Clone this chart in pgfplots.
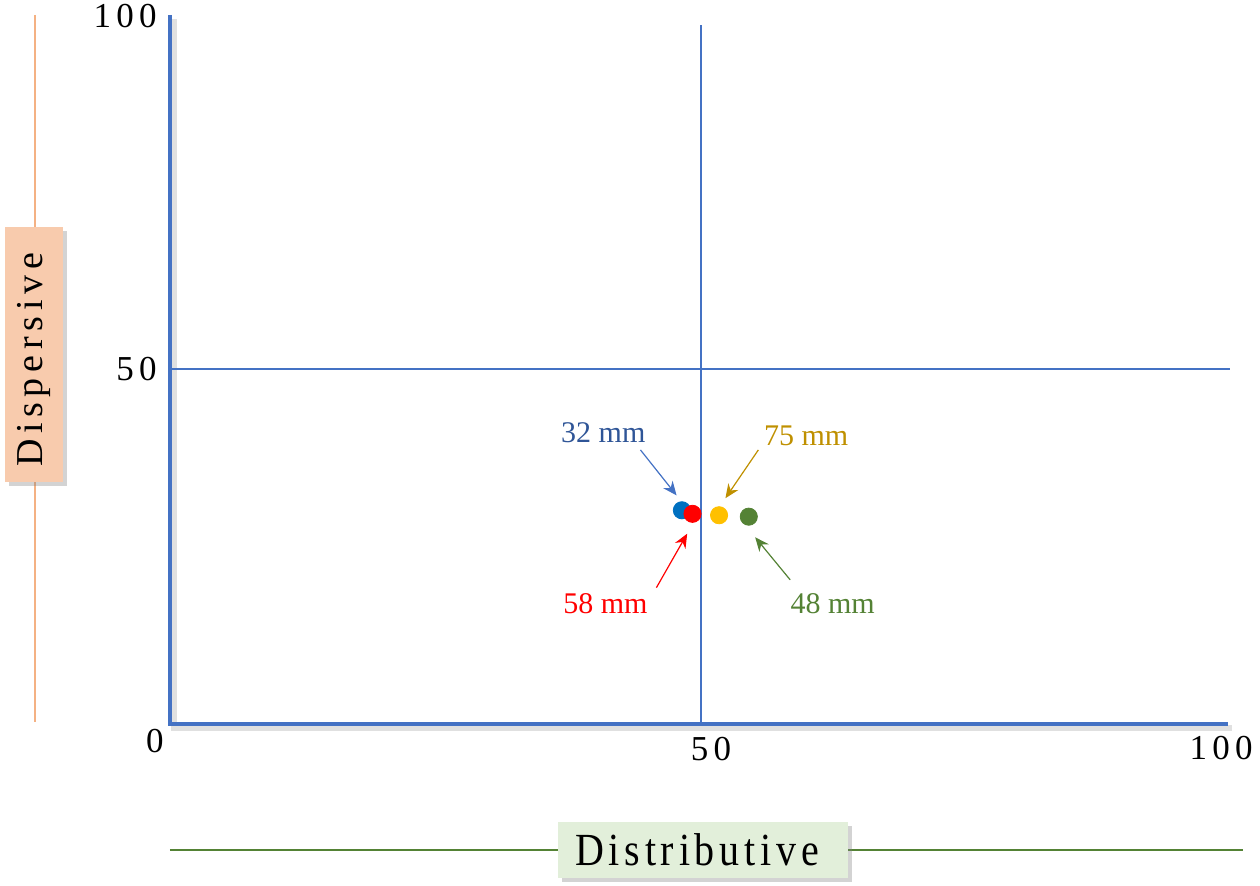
\documentclass[border=0pt]{standalone}
\usepackage{pgfplots}
\pgfplotsset{compat=1.18}
\usepackage{fontspec}
\setmainfont{Liberation Serif}
\usetikzlibrary{shadows,arrows.meta}

\definecolor{axblue}{HTML}{4472C4}
\definecolor{ptblue}{HTML}{0070C0}
\definecolor{ptred}{HTML}{FF0000}
\definecolor{ptyellow}{HTML}{FFC000}
\definecolor{ptgreen}{HTML}{548235}
\definecolor{lblblue}{HTML}{2F5597}
\definecolor{lblgold}{HTML}{BF9000}
\definecolor{boxorange}{HTML}{F8CBAD}
\definecolor{lineorange}{HTML}{F4B183}
\definecolor{boxgreen}{HTML}{E2EFDA}

\newcommand{\ticklbl}[1]{{\fontsize{17.5}{20}\selectfont\addfontfeature{LetterSpace=15}#1}}
\newcommand{\mmlbl}[1]{{\fontsize{15}{17}\selectfont #1}}

\begin{document}
\begin{tikzpicture}[x=0.5pt,y=0.5pt]
\useasboundingbox (-170,-162) rectangle (1090,724);

% axis titles with guide lines
\draw[lineorange, line width=0.6pt] (-135,709) -- (-135,2);
\node[fill=boxorange, minimum width=29pt, minimum height=127.5pt, inner sep=0pt,
      drop shadow={shadow xshift=2pt, shadow yshift=-2pt, opacity=0.35}]
  at (-136,369) {};
\node[rotate=90] at (-136,364)
  {\fontsize{19}{22}\selectfont\addfontfeature{LetterSpace=15}Dispersive};
\draw[ptgreen, line width=0.6pt] (0,-126) -- (1073,-126);
\node[fill=boxgreen, minimum width=145pt, minimum height=28pt, inner sep=0pt,
      drop shadow={shadow xshift=2pt, shadow yshift=-2pt, opacity=0.35}]
  at (533,-126) {};
\node[yscale=1.15] at (527,-126)
  {\fontsize{20}{22}\selectfont\addfontfeature{LetterSpace=12}Distributive};

% main axis lines with soft shadow
\draw[black!12, line width=3pt] (4,705) -- (4,-4) -- (1062,-4);
\draw[axblue, line width=2pt] (0,709) -- (0,0) -- (1058,0);

\begin{axis}[
  at={(0,0)}, anchor=south west,
  scale only axis, width=531pt, height=355pt,
  xmin=0, xmax=100, ymin=0, ymax=100,
  hide axis, clip=false,
]
% quadrant dividers
\draw[axblue, line width=0.6pt] (axis cs:50,0) -- (axis cs:50,98.5);
\draw[axblue, line width=0.6pt] (axis cs:0,50) -- (axis cs:99.8,50);

\addplot[only marks, mark=*, mark size=4.3pt, ptblue, mark options={draw=ptblue, fill=ptblue}]
  coordinates {(48.2,30.1)};
\addplot[only marks, mark=*, mark size=4.3pt, ptred, mark options={draw=ptred, fill=ptred}]
  coordinates {(49.2,29.6)};
\addplot[only marks, mark=*, mark size=4.3pt, ptyellow, mark options={draw=ptyellow, fill=ptyellow}]
  coordinates {(51.7,29.4)};
\addplot[only marks, mark=*, mark size=4.3pt, ptgreen, mark options={draw=ptgreen, fill=ptgreen}]
  coordinates {(54.5,29.2)};

% callouts
\draw[axblue, line width=0.6pt, -{Stealth[length=7pt,width=6pt]}] (axis cs:44.3,38.6) -- (axis cs:47.7,32.2);
\draw[lblgold, line width=0.6pt, -{Stealth[length=7pt,width=6pt]}] (axis cs:55.4,38.6) -- (axis cs:52.3,31.8);
\draw[ptred, line width=0.6pt, -{Stealth[length=7pt,width=6pt]}] (axis cs:45.8,19.2) -- (axis cs:48.7,26.8);
\draw[ptgreen, line width=0.6pt, -{Stealth[length=7pt,width=6pt]}] (axis cs:58.4,20.3) -- (axis cs:55.1,26.3);

\node[text=lblblue] at (axis cs:40.8,41.0) {\mmlbl{32 mm}};
\node[text=lblgold] at (axis cs:59.9,40.6) {\mmlbl{75 mm}};
\node[text=ptred] at (axis cs:41.0,16.9) {\mmlbl{58 mm}};
\node[text=ptgreen] at (axis cs:62.4,17.0) {\mmlbl{48 mm}};
\end{axis}

% tick labels
\node[anchor=east, inner sep=0pt] at (-13,708) {\ticklbl{100}};
\node[anchor=east, inner sep=0pt] at (-13,355) {\ticklbl{50}};
\node at (-15,-17) {\ticklbl{0}};
\node at (541,-25) {\ticklbl{50}};
\node at (1051,-24) {\ticklbl{100}};
\end{tikzpicture}
\end{document}
